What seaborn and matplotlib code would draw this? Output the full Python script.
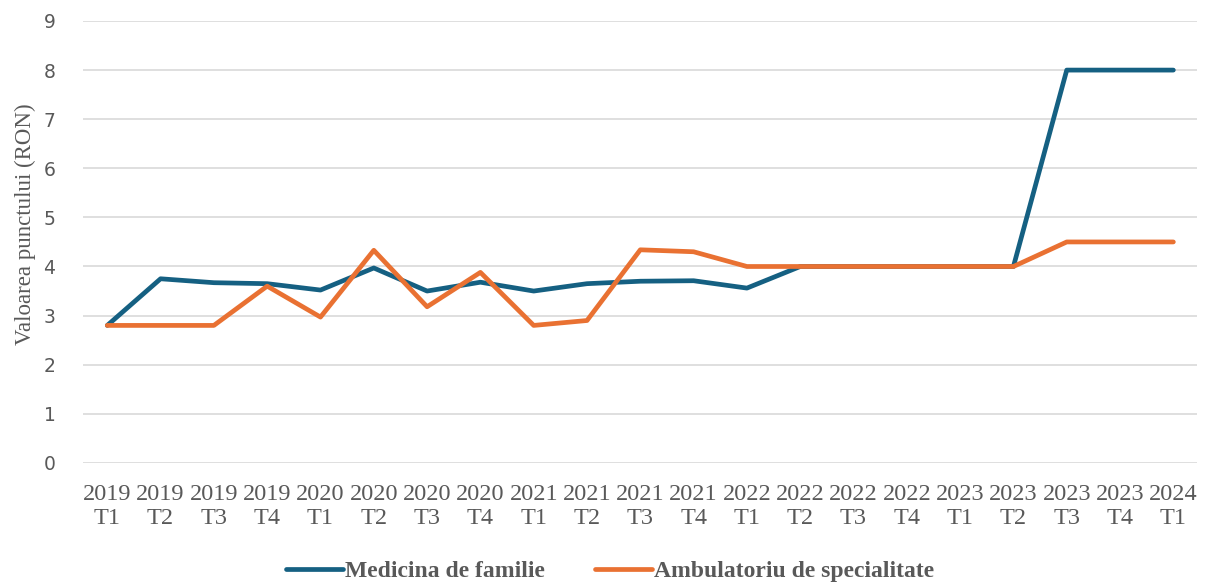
import matplotlib
matplotlib.use('Agg')
import matplotlib.pyplot as plt
import seaborn as sns
import pandas as pd

# data
years = ['2019', '2019', '2019', '2019', '2020', '2020', '2020', '2020',
         '2021', '2021', '2021', '2021', '2022', '2022', '2022', '2022',
         '2023', '2023', '2023', '2023', '2024']
quarters = ['T1', 'T2', 'T3', 'T4', 'T1', 'T2', 'T3', 'T4',
            'T1', 'T2', 'T3', 'T4', 'T1', 'T2', 'T3', 'T4',
            'T1', 'T2', 'T3', 'T4', 'T1']
medicina = [2.8, 3.75, 3.67, 3.65, 3.52, 3.97, 3.5, 3.68,
            3.5, 3.65, 3.7, 3.71, 3.56, 4.0, 4.0, 4.0,
            4.0, 4.0, 8.0, 8.0, 8.0]
ambulatoriu = [2.8, 2.8, 2.8, 3.6, 2.97, 4.33, 3.18, 3.88,
               2.8, 2.9, 4.34, 4.3, 4.0, 4.0, 4.0, 4.0,
               4.0, 4.0, 4.5, 4.5, 4.5]

labels = [y + '\n' + q for y, q in zip(years, quarters)]
idx = list(range(len(labels)))
df = pd.DataFrame({'x': idx * 2,
                   'val': medicina + ambulatoriu,
                   'serie': ['Medicina de familie'] * len(idx) + ['Ambulatoriu de specialitate'] * len(idx)})

sns.set_style("white")
fig = plt.figure(figsize=(12.07, 5.83), dpi=100)
ax = fig.add_axes([0.069, 0.206, 0.923, 0.758])

sns.lineplot(data=df, x='x', y='val', hue='serie',
             palette=['#156082', '#e97132'], linewidth=3.4, ax=ax,
             solid_capstyle='round', solid_joinstyle='round')

ax.set_xlim(-0.45, 20.45)
ax.set_ylim(0, 9)
ax.set_yticks(range(10))
ax.yaxis.grid(True, color='#d9d9d9', linewidth=1.2)
ax.set_axisbelow(True)
for s in ax.spines.values():
    s.set_visible(False)

ax.set_xticks(idx)
ax.set_xticklabels(labels, family='Liberation Serif', fontsize=17.5, color='#595959', linespacing=1.2)
ax.tick_params(axis='x', length=0, pad=15)
ax.tick_params(axis='y', length=0, pad=20, labelsize=13.5, labelcolor='#595959')
for t in ax.get_yticklabels():
    t.set_family('DejaVu Sans')
ax.set_xlabel('')
ax.set_ylabel('Valoarea punctului (RON)', family='Liberation Serif', fontsize=16.5, color='#595959')
ax.yaxis.set_label_coords(-0.042, 0.54)

ax.legend(loc='center', bbox_to_anchor=(0.473, -0.245), ncol=2, frameon=False,
          prop={'family': 'Liberation Serif', 'weight': 'bold', 'size': 17},
          handlelength=2.4, handletextpad=0.1, columnspacing=2.1, labelcolor='#595959')

plt.savefig('out.png', dpi=100)
